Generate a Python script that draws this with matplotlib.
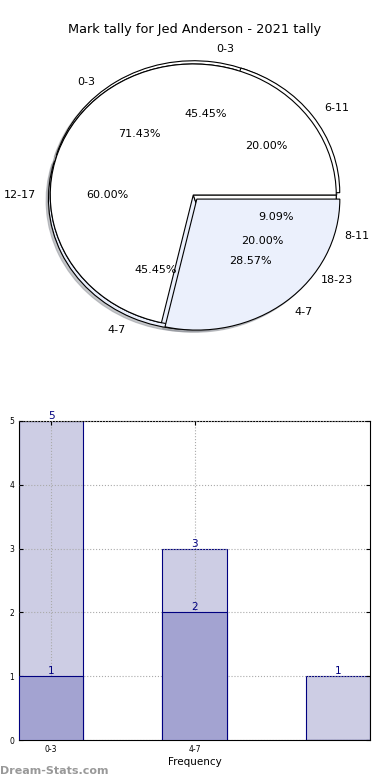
import numpy as np
import matplotlib
matplotlib.use('Agg')
import matplotlib.pyplot as plt

# --- datos del grafico de torta (tres tortas superpuestas)
pie1_labels = ['0-3', '4-7', '8-11']
pie1_values = [5, 5, 1]
pie2_labels = ['0-3', '4-7']
pie2_values = [5, 2]
pie3_labels = ['6-11', '12-17', '18-23']
pie3_values = [1, 3, 1]

# --- datos del grafico de barras
bar_ticks = ['0-3', '4-7']
bar_light = [5, 3, 1]
bar_dark = [1, 2, 0]

titulo = 'Mark tally for Jed Anderson - 2021 tally'

blanco = 'white'
celeste = '#EBF0FC'
claro = '#CDCDE4'
oscuro = '#A3A3D1'
navy = '#000080'

fig = plt.figure(figsize=(3.9, 7.8), dpi=100)
fig.text(0.5, 1 - 30 / 780, titulo, ha='center', va='center', fontsize=9.3)

# --- tortas
ax1 = fig.add_axes([14.5 / 390, 0.5375 + 2 / 780, 0.9167, 0.4199])
wp = {'edgecolor': 'black', 'linewidth': 0.8}
tp = {'fontsize': 8}
sombra = {'ox': -0.012, 'oy': -0.012, 'shade': 0.4}
ax1.pie(pie1_values, labels=pie1_labels, autopct='%1.2f%%', colors=[blanco, celeste, blanco],
        explode=[0.025, 0.03, 0], shadow=sombra, wedgeprops=wp, textprops=tp)
ax1.pie(pie3_values, labels=pie3_labels, autopct='%1.2f%%', colors=[blanco, celeste, blanco],
        explode=[0.03, 0, 0], shadow=sombra, wedgeprops=wp, textprops=tp)
ax1.pie(pie2_values, labels=pie2_labels, autopct='%1.2f%%', colors=[blanco, celeste],
        explode=[0, 0.04], shadow=sombra, wedgeprops=wp, textprops=tp)
ax1.set_aspect('auto')
ax1.set_xlim(-1.25, 1.25)
ax1.set_ylim(-1.25, 1.25)
ax1.axis('off')

# --- barras
ax2 = fig.add_axes([19 / 390, 1 - 740 / 780, 351 / 390, 319 / 780])
xs = np.arange(len(bar_light))
w = 0.45
ax2.bar(xs, bar_light, width=w, align='edge', color=claro, edgecolor=navy, linewidth=0.8, zorder=2)
ax2.bar(xs, bar_dark, width=w, align='edge', color=oscuro, edgecolor=navy, linewidth=0.8, zorder=3)
for x, v in zip(xs, bar_light):
    if v > 0:
        ax2.text(x + w / 2, v, str(v), ha='center', va='bottom', color=navy, fontsize=7.5, zorder=4)
for x, v in zip(xs, bar_dark):
    if v > 0:
        ax2.text(x + w / 2, v, str(v), ha='center', va='bottom', color=navy, fontsize=7.5, zorder=4)

ax2.set_xlim(0, 2 + w)
ax2.set_ylim(0, 5)
ax2.set_xticks(xs[:len(bar_ticks)] + w / 2)
ax2.set_xticklabels(bar_ticks)
ax2.set_yticks(range(6))
ax2.tick_params(labelsize=5.5, direction='in', top=True, right=True, length=3)
ax2.grid(True, linestyle=':', color='#aaaaaa', linewidth=0.8, zorder=5)
ax2.set_axisbelow(False)
ax2.set_xlabel('Frequency', fontsize=7.5, labelpad=2)

fig.text(0.0, 1 - 771 / 780, 'Dream-Stats.com', fontsize=8, color='#999999',
         fontweight='bold', ha='left', va='center')

fig.savefig('out.png', dpi=100)
